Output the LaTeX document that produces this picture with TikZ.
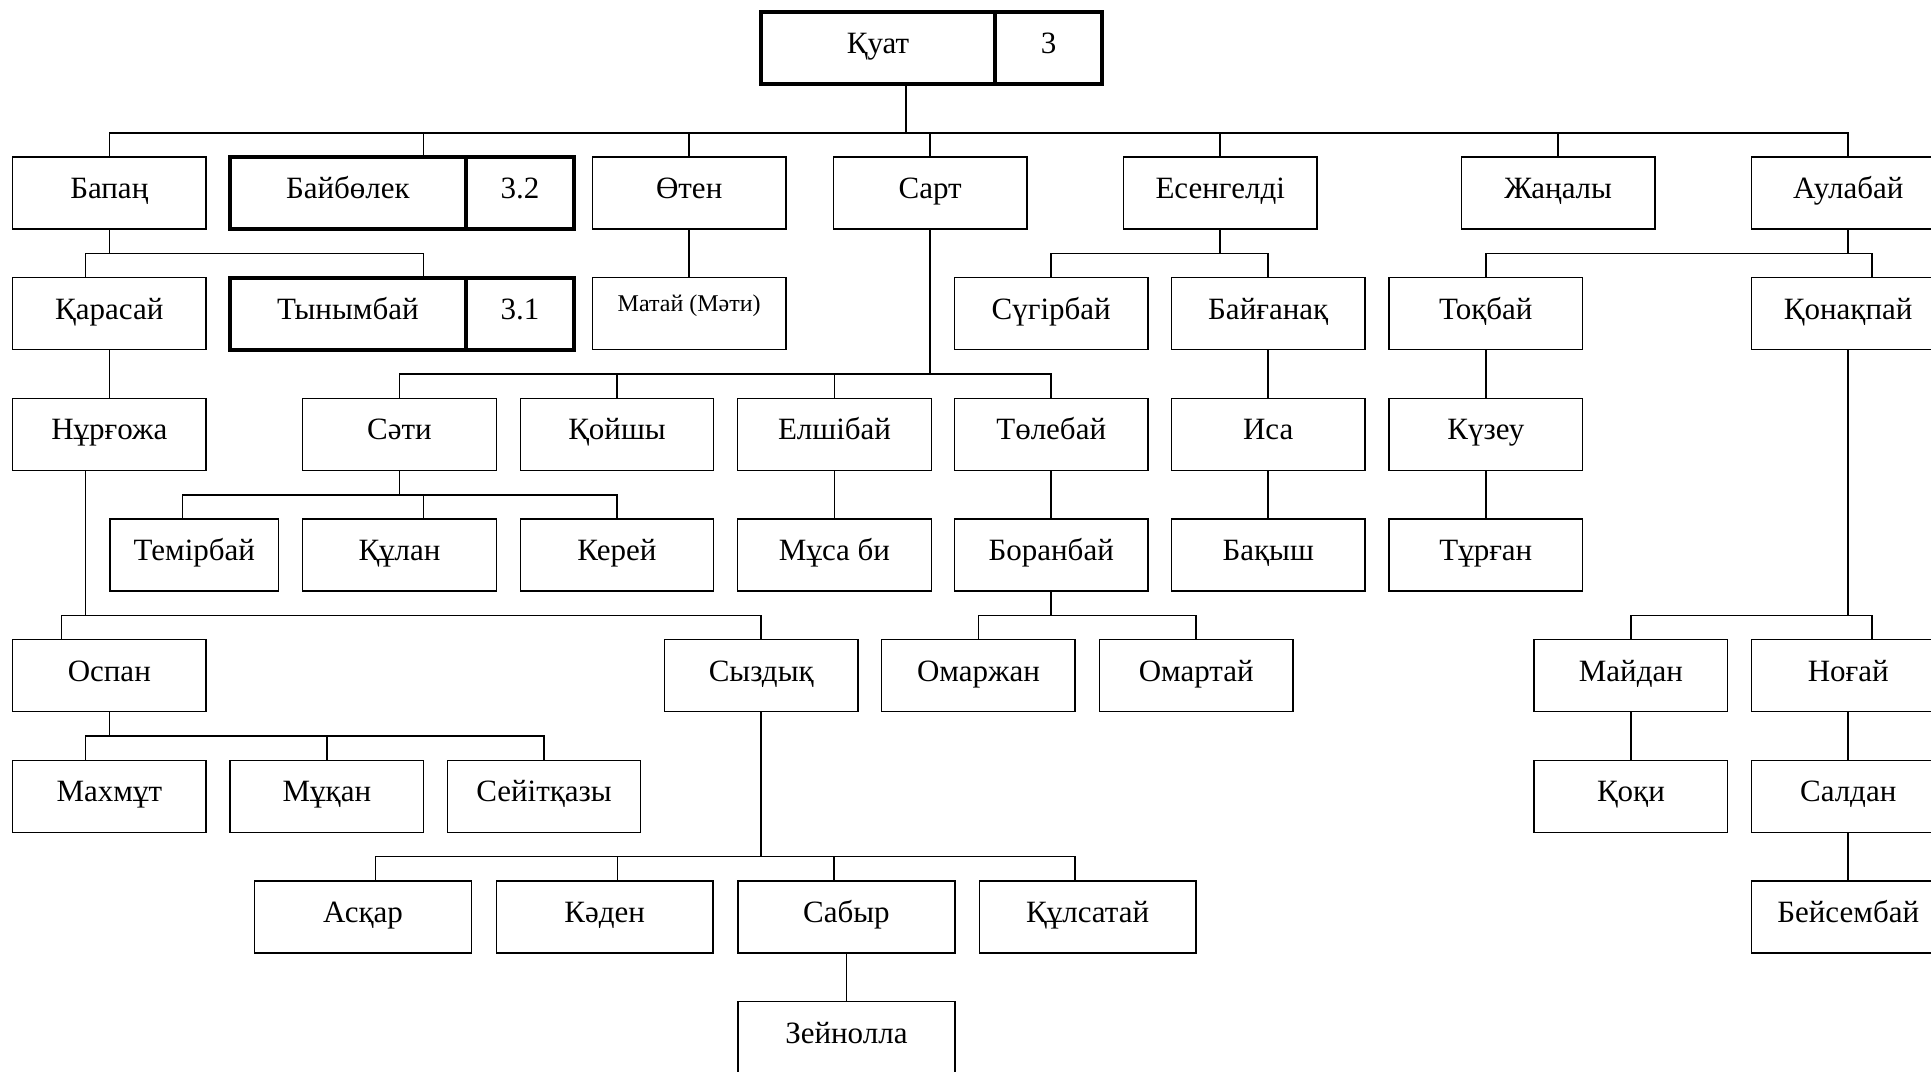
\documentclass[tikz,border=0pt]{standalone}
\usepackage{fontspec}
\setmainfont{Liberation Serif}
\usetikzlibrary{positioning}

\tikzset{
  box/.style={draw, line width=0.7pt, minimum width=96.75pt, minimum height=36pt,
    inner sep=0pt, text height=8pt, text depth=2.4pt},
  widebox/.style={box, minimum width=108.4pt},
  thickbox/.style={box, line width=2pt, outer sep=0pt},
  link/.style={line width=0.75pt}
}

\begin{document}
\begin{tikzpicture}[x=0.5pt, y=-0.5pt, font=\fontsize{15.5}{18}\selectfont]
  \clip (0,0) rectangle (1931,1071);

  % Top ancestor
  \node[thickbox, minimum width=117pt] (kuat) at (878,48) {Қуат};
  \node[thickbox, minimum width=53.5pt, right=0pt of kuat] (kuatnum) {3};

  % First generation
  \node[box] (bapan) at (109.3,192.8) {Бапаң};
  \node[thickbox, minimum width=117.9pt] (baibolek) at (347.9,192.8) {Байбөлек};
  \node[thickbox, minimum width=54.1pt, right=0pt of baibolek] (baibnum) {3.2};
  \node[box] (oten) at (689.2,192.8) {Өтен};
  \node[box] (sart) at (930.2,192.8) {Сарт};
  \node[box] (esengeldi) at (1220.2,192.8) {Есенгелді};
  \node[box] (zhanaly) at (1558.2,192.8) {Жаңалы};
  \node[box] (aulabai) at (1848.2,192.8) {Аулабай};

  % Second generation
  \node[box] (karasai) at (109.3,313.5) {Қарасай};
  \node[thickbox, minimum width=117.9pt] (tynymbai) at (347.9,313.5) {Тынымбай};
  \node[thickbox, minimum width=54.1pt, right=0pt of tynymbai] (tynnum) {3.1};
  \node[box, font=\fontsize{12}{14}\selectfont, text height=4pt, text depth=6pt] (matai) at (689.2,313.5) {Матай (Мәти)};
  \node[box] (sugirbai) at (1051.2,313.5) {Сүгірбай};
  \node[box] (baiganak) at (1268.2,313.5) {Байғанақ};
  \node[box] (tokbai) at (1485.8,313.5) {Тоқбай};
  \node[box] (konakpai) at (1848.2,313.5) {Қонақпай};

  % Third generation
  \node[box] (nurgozha) at (109.3,434.2) {Нұрғожа};
  \node[box] (sati) at (399.5,434.2) {Сәти};
  \node[box] (koishy) at (617,434.2) {Қойшы};
  \node[box] (elshibai) at (834.5,434.2) {Елшібай};
  \node[box] (tolebai) at (1051.2,434.2) {Төлебай};
  \node[box] (isa) at (1268.2,434.2) {Иса};
  \node[box] (kuzeu) at (1485.8,434.2) {Күзеу};

  % Fourth generation
  \node[box, minimum width=84.2pt] (temirbai) at (194.3,554.9) {Темірбай};
  \node[box] (kulan) at (399.5,554.9) {Құлан};
  \node[box] (kerei) at (617,554.9) {Керей};
  \node[box] (musa) at (834.5,554.9) {Мұса би};
  \node[box] (boranbai) at (1051.2,554.9) {Боранбай};
  \node[box] (bakysh) at (1268.2,554.9) {Бақыш};
  \node[box] (turgan) at (1485.8,554.9) {Тұрған};

  % Fifth generation
  \node[box] (ospan) at (109.3,675.6) {Оспан};
  \node[box] (syzdyk) at (761.2,675.6) {Сыздық};
  \node[box] (omarzhan) at (978.4,675.6) {Омаржан};
  \node[box] (omartai) at (1196.2,675.6) {Омартай};
  \node[box] (maidan) at (1630.9,675.6) {Майдан};
  \node[box] (nogai) at (1848.2,675.6) {Ноғай};

  % Sixth generation
  \node[box] (makhmut) at (109.3,796.3) {Махмұт};
  \node[box] (mukan) at (326.9,796.3) {Мұқан};
  \node[box] (seiitkazy) at (544,796.3) {Сейітқазы};
  \node[box] (koki) at (1630.9,796.3) {Қоқи};
  \node[box] (saldan) at (1848.2,796.3) {Салдан};

  % Seventh and eighth generation
  \node[widebox] (askar) at (363,917) {Асқар};
  \node[widebox] (kaden) at (604.7,917) {Кәден};
  \node[widebox] (sabyr) at (846.4,917) {Сабыр};
  \node[widebox] (kulsatai) at (1087.7,917) {Құлсатай};
  \node[box] (beisembai) at (1848.2,917) {Бейсембай};
  \node[widebox] (zeinolla) at (846.4,1037.7) {Зейнолла};

  % Children of Қуат
  \draw[link] (kuat.south -| 906,0) -- (906,133);
  \draw[link] (bapan.north) |- (aulabai.north |- 0,133) -- (aulabai.north);
  \draw[link] (baibolek.north -| 423.7,0) -- (423.7,133);
  \foreach \n in {oten,sart,esengeldi,zhanaly}
    \draw[link] (\n.north) -- (\n.north |- 0,133);

  % Second row links
  \draw[link] (bapan.south) -- (bapan.south |- 0,253.5);
  \draw[link] (karasai.north -| 85.6,0) |- (423.7,253.5) -- (tynymbai.north -| 423.7,0);
  \draw[link] (oten.south) -- (matai.north);
  \draw[link] (esengeldi.south) -- (esengeldi.south |- 0,253.5);
  \draw[link] (sugirbai.north) |- (baiganak.north |- 0,253.5) -- (baiganak.north);
  \draw[link] (aulabai.south) -- (aulabai.south |- 0,253.5);
  \draw[link] (tokbai.north) |- (1871.8,253.5) -- (konakpai.north -| 1871.8,0);

  % Children of Сарт
  \draw[link] (sart.south) -- (sart.south |- 0,374.2);
  \draw[link] (sati.north) |- (tolebai.north |- 0,374.2) -- (tolebai.north);
  \foreach \n in {koishy,elshibai}
    \draw[link] (\n.north) -- (\n.north |- 0,374.2);

  % Single descents
  \draw[link] (karasai.south) -- (nurgozha.north);
  \draw[link] (baiganak.south) -- (isa.north);
  \draw[link] (tokbai.south) -- (kuzeu.north);
  \draw[link] (elshibai.south) -- (musa.north);
  \draw[link] (tolebai.south) -- (boranbai.north);
  \draw[link] (isa.south) -- (bakysh.north);
  \draw[link] (kuzeu.south) -- (turgan.north);
  \draw[link] (maidan.south) -- (koki.north);
  \draw[link] (nogai.south) -- (saldan.north);
  \draw[link] (saldan.south) -- (beisembai.north);
  \draw[link] (sabyr.south) -- (zeinolla.north);

  % Children of Сәти
  \draw[link] (sati.south) -- (sati.south |- 0,495);
  \draw[link] (temirbai.north -| 182.4,0) |- (kerei.north |- 0,495) -- (kerei.north);
  \draw[link] (kulan.north -| 423.7,0) -- (423.7,495);

  % Fifth row links
  \draw[link] (nurgozha.south -| 85.6,0) -- (85.6,615.5);
  \draw[link] (ospan.north -| 61.7,0) |- (syzdyk.north |- 0,615.5) -- (syzdyk.north);
  \draw[link] (boranbai.south) -- (boranbai.south |- 0,615.5);
  \draw[link] (omarzhan.north) |- (omartai.north |- 0,615.5) -- (omartai.north);
  \draw[link] (konakpai.south) -- (konakpai.south |- 0,615.5);
  \draw[link] (maidan.north) |- (1871.8,615.5) -- (nogai.north -| 1871.8,0);

  % Children of Оспан
  \draw[link] (ospan.south) -- (ospan.south |- 0,736);
  \draw[link] (makhmut.north -| 85.6,0) |- (seiitkazy.north |- 0,736) -- (seiitkazy.north);
  \draw[link] (mukan.north) -- (mukan.north |- 0,736);

  % Children of Сыздық
  \draw[link] (syzdyk.south) -- (syzdyk.south |- 0,856.7);
  \draw[link] (askar.north -| 375.3,0) |- (1075,856.7) -- (kulsatai.north -| 1075,0);
  \draw[link] (kaden.north -| 617.3,0) -- (617.3,856.7);
  \draw[link] (sabyr.north -| 834.1,0) -- (834.1,856.7);
\end{tikzpicture}
\end{document}
